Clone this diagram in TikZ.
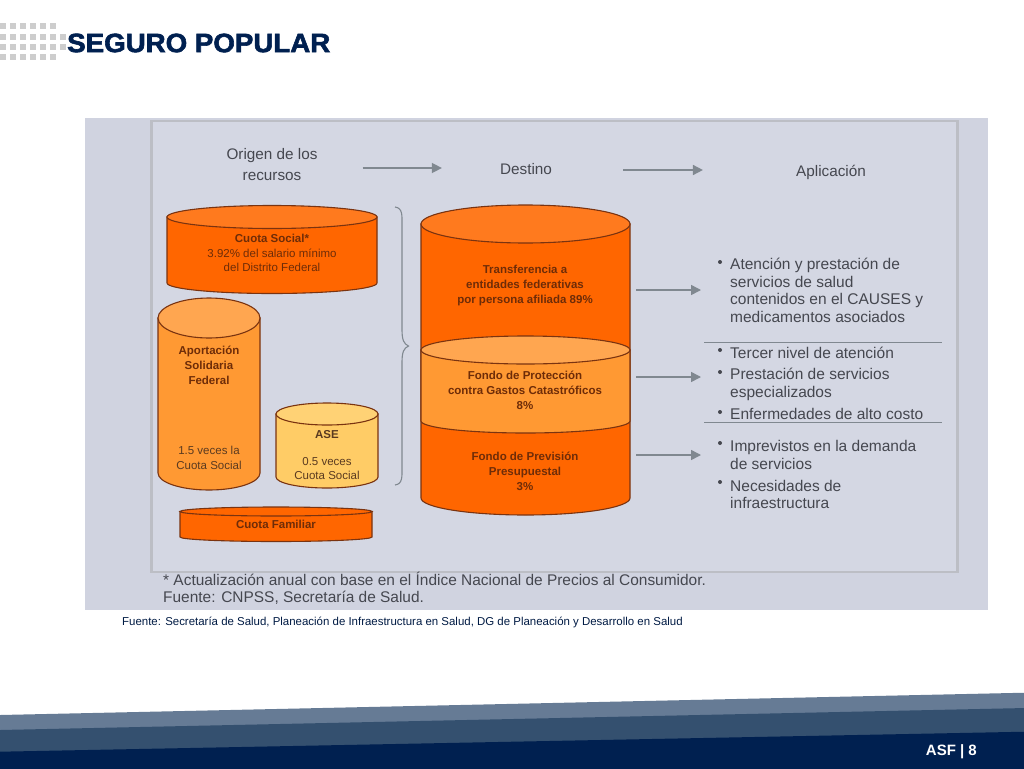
\documentclass[tikz,border=0pt]{standalone}
\usepackage{fontspec}
\setmainfont{Liberation Sans}
\newfontfamily\titlefont[FakeBold=2.2,FakeStretch=1.045]{Liberation Sans Bold}
\usetikzlibrary{arrows.meta,decorations.pathreplacing}
\definecolor{navy}{HTML}{002050}
\definecolor{bandA}{HTML}{667B95}
\definecolor{bandB}{HTML}{34506F}
\definecolor{panel}{HTML}{D0D3E0}
\definecolor{inner}{HTML}{D4D7E3}
\definecolor{frameC}{HTML}{BCBEC5}
\definecolor{orD}{HTML}{FF6600}
\definecolor{orT}{HTML}{FF7A1E}
\definecolor{orM}{HTML}{FF9933}
\definecolor{orL}{HTML}{FFA650}
\definecolor{yeM}{HTML}{FFCC66}
\definecolor{yeT}{HTML}{FFD275}
\definecolor{rimC}{HTML}{7A3310}
\definecolor{lblC}{HTML}{6E2C08}
\definecolor{lblB}{HTML}{5A3A20}
\definecolor{txtC}{HTML}{45474F}
\definecolor{arrC}{HTML}{808890}
\definecolor{dotC}{HTML}{CDCDCD}
\tikzset{
  rim/.style={draw=rimC,line width=1.1pt},
  cyltext/.style={align=center,text=lblC,font=\fontsize{11.5}{15}\selectfont\bfseries,inner sep=0pt},
  cyllight/.style={align=center,text=lblB,font=\fontsize{11.5}{14.5}\selectfont,inner sep=0pt},
  head/.style={align=center,text=txtC,font=\fontsize{15.3}{21}\selectfont,inner sep=0pt},
  listtext/.style={anchor=base west,text=txtC,font=\fontsize{15.5}{18}\selectfont,inner sep=0pt},
  bul/.style={circle,fill=txtC,inner sep=0pt,minimum size=4pt},
  flow/.style={draw=arrC,line width=1.5pt,-{Triangle[length=10pt,width=10pt]}},
  sepline/.style={draw=arrC,line width=1.2pt},
  dotbox/.style={fill=dotC}
}
% cx, rx, top-rim y, bottom-rim y, top ry, bottom ry, body colour, top colour
\newcommand{\cylbody}[8]{%
  \path[rim,fill=#7] (#1-#2,#3) -- (#1-#2,#4) arc[start angle=180,end angle=0,x radius=#2,y radius=#6] -- (#1+#2,#3) -- cycle;
  \path[rim,fill=#8] (#1,#3) ellipse[x radius=#2,y radius=#5];
}
\begin{document}
\begin{tikzpicture}[x=1pt,y=-1pt]
\useasboundingbox (0,0) rectangle (1024,768);
\fill[white] (0,0) rectangle (1024,768);

% dot grid
\foreach \yy in {26,37,47,57}{\foreach \xx in {0,10,20,30,40,50}{\fill[dotbox] (\xx,\yy-2.7) rectangle (\xx+5.5,\yy+2.7);}}
\foreach \yy in {37,47}{\fill[dotbox] (60,\yy-2.7) rectangle (65.5,\yy+2.7);}
\node[anchor=west,inner sep=0pt,text=navy,font=\fontsize{26.5}{30}\selectfont\titlefont] (title) at (67,43) {SEGURO POPULAR};

% panel
\fill[panel] (85,118) rectangle (988,610);
\draw[frameC,line width=2.4pt,fill=inner] (151.5,121) rectangle (957.5,572);

% headers
\node[head] (origen) at (272,164.5) {Origen de los\\recursos};
\node[head] (destino) at (526,169) {Destino};
\node[head] (aplic) at (831,172) {Aplicación};
\draw[flow,shorten <=45pt,shorten >=58pt] (origen.east |- 0,168) -- (destino.west |- 0,168);
\draw[flow,shorten <=71pt,shorten >=93pt] (destino.east |- 0,170) -- (aplic.west |- 0,170);

% left cylinders
\cylbody{272}{105}{217}{283}{11.5}{10.5}{orD}{orT}
\node[cyllight,text=lblC] (cuota) at (272,253) {\textbf{Cuota Social*}\\3.92\% del salario mínimo\\del Distrito Federal};
\cylbody{209}{51}{318}{473}{20}{17}{orM}{orL}
\node[cyltext] (aport) at (209,365) {Aportación\\Solidaria\\Federal};
\node[cyllight] (aport2) at (209,458) {1.5 veces la\\Cuota Social};
\cylbody{327}{51}{414}{477}{11}{11}{yeM}{yeT}
\node[cyltext,text=lblB] (ase) at (327,435) {ASE};
\node[cyllight] (ase2) at (327,468.5) {0.5 veces\\Cuota Social};
\cylbody{276}{96}{511.5}{537}{4.5}{4.5}{orD}{orD}
\node[cyltext] (familiar) at (276,524) {Cuota Familiar};

% brace
\draw[arrC,line width=1.1pt] (395,207) .. controls (403,208) and (402,216) .. (402,226)
  -- (402,330) .. controls (402,340) and (404,344) .. (408.5,346)
  .. controls (404,348) and (402,352) .. (402,362)
  -- (402,466) .. controls (402,476) and (403,484) .. (395,485);

% big cylinder
\cylbody{525.5}{104.5}{224}{498}{19}{17}{orD}{orT}
\path[rim,fill=orM] (421,350) -- (421,421) arc[start angle=180,end angle=0,x radius=104.5,y radius=12] -- (630,350) -- cycle;
\path[rim,fill=orL] (525.5,350) ellipse[x radius=104.5,y radius=14];
\node[cyltext] (transf) at (525,286) {Transferencia a\\entidades federativas\\por persona afiliada 89\%};
\node[cyltext] (fondop) at (525,390.5) {Fondo de Protección\\contra Gastos Catastróficos\\8\%};
\node[cyltext] (fondoi) at (525,471.5) {Fondo de Previsión\\Presupuestal\\3\%};

% flow arrows
\coordinate (cylA) at (636,290); \coordinate (listA) at (701,290);
\coordinate (cylB) at (636,377); \coordinate (listB) at (701,377);
\coordinate (cylC) at (636,455); \coordinate (listC) at (701,455);
\draw[flow] (cylA) -- (listA);
\draw[flow] (cylB) -- (listB);
\draw[flow] (cylC) -- (listC);

% lists
\node[bul] (b1) at (720,262) {};
\node[listtext] (l1) at (730,269) {Atención y prestación de};
\node[listtext] (l2) at (730,287) {servicios de salud};
\node[listtext] (l3) at (730,304.5) {contenidos en el CAUSES y};
\node[listtext] (l4) at (730,322) {medicamentos asociados};
\coordinate (s1a) at (704,342.5); \coordinate (s1b) at (942,342.5);
\draw[sepline] (s1a) -- (s1b);
\node[bul] (b2) at (720,350) {};
\node[listtext] (l5) at (730,358) {Tercer nivel de atención};
\node[bul] (b3) at (720,372) {};
\node[listtext] (l6) at (730,379) {Prestación de servicios};
\node[listtext] (l7) at (730,397) {especializados};
\node[bul] (b4) at (720,412) {};
\node[listtext] (l8) at (730,419) {Enfermedades de alto costo};
\coordinate (s2a) at (704,422.5); \coordinate (s2b) at (942,422.5);
\draw[sepline,line width=0.8pt] (s2a) -- (s2b);
\node[bul] (b5) at (720,443) {};
\node[listtext] (l9) at (730,451) {Imprevistos en la demanda};
\node[listtext] (l10) at (730,469) {de servicios};
\node[bul] (b6) at (720,482) {};
\node[listtext] (l11) at (730,491) {Necesidades de};
\node[listtext] (l12) at (730,508) {infraestructura};

% footnote
\node[listtext,font=\fontsize{15.45}{18}\selectfont] (fn1) at (163,585) {* Actualización anual con base en el Índice Nacional de Precios al Consumidor.};
\node[listtext,font=\fontsize{15.45}{18}\selectfont] (fn2) at (163,602.5) {Fuente: CNPSS, Secretaría de Salud.};

% caption
\node[anchor=west,inner sep=0pt,text=navy!85!black,font=\fontsize{11.45}{13}\selectfont] (cap) at (122,622.5) {Fuente: Secretaría de Salud, Planeación de Infraestructura en Salud, DG de Planeación y Desarrollo en Salud};

% footer bands
\fill[bandA] (0,715) -- (1026,692.7) -- (1026,772) -- (0,772) -- cycle;
\fill[bandB] (0,730) -- (1026,708) -- (1026,772) -- (0,772) -- cycle;
\fill[navy] (0,751.7) -- (1026,731.7) -- (1026,772) -- (0,772) -- cycle;
\node[anchor=east,inner sep=0pt,text=white,font=\fontsize{15}{16}\selectfont\bfseries] (page) at (977,751.5) {ASF | 8};
\end{tikzpicture}
\end{document}
